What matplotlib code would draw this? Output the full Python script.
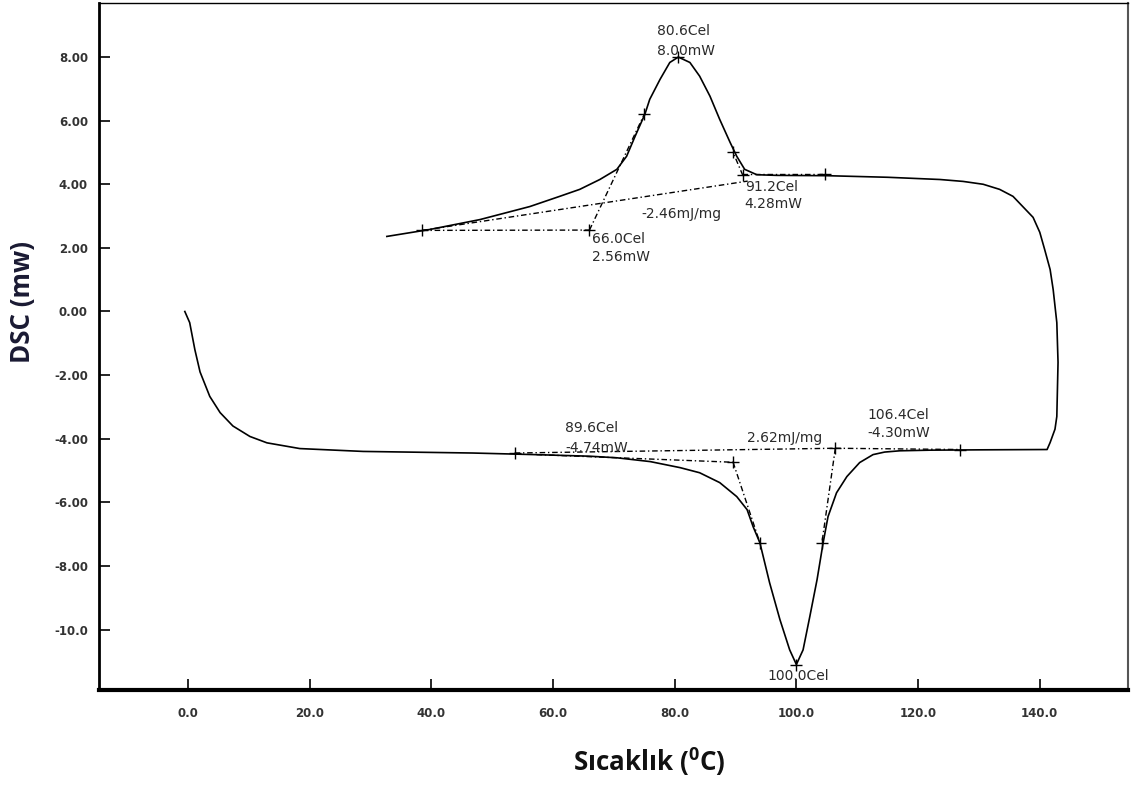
import matplotlib
matplotlib.use("Agg")
import matplotlib.pyplot as plt

# DSC curve: heating run (bottom), turn at ~143 C, cooling run (top)
temp = [-0.5, 0.3, 1.15, 2.0, 3.6, 5.3, 7.4, 10.2, 13.0, 18.4, 28.8, 46.8, 57.0, 66.0,
        70.5, 76.0, 80.9, 84.1, 87.4, 90.2, 91.9, 92.9, 94.0, 95.6, 97.3, 98.9, 100.0,
        101.1, 102.2, 103.4, 104.4, 105.2, 106.6, 108.3, 110.4, 112.6, 114.5, 117.0,
        122.0, 130.0, 141.2, 141.7, 142.5, 142.8, 143.0, 142.8, 142.2, 141.7, 140.8,
        140.0, 138.9, 137.2, 135.6, 133.4, 130.7, 127.4, 123.6, 115.0, 105.0, 96.8,
        93.5, 91.5, 90.2, 89.1, 87.4, 85.8, 84.1, 82.5, 80.6, 79.2, 77.6, 75.9, 75.1,
        73.5, 72.1, 70.5, 67.7, 64.4, 61.1, 56.2, 48.0, 39.8, 32.7]
dsc = [0.0, -0.35, -1.2, -1.9, -2.67, -3.18, -3.6, -3.93, -4.13, -4.31, -4.4, -4.45, -4.5,
       -4.55, -4.6, -4.72, -4.91, -5.07, -5.38, -5.82, -6.23, -6.77, -7.27, -8.53, -9.69,
       -10.64, -11.1, -10.64, -9.6, -8.43, -7.27, -6.45, -5.7, -5.19, -4.75, -4.5, -4.42,
       -4.38, -4.36, -4.35, -4.34, -4.12, -3.7, -3.3, -1.6, -0.35, 0.69, 1.32, 1.95,
       2.49, 2.96, 3.3, 3.62, 3.84, 4.0, 4.09, 4.15, 4.22, 4.27, 4.28, 4.3, 4.47, 4.88,
       5.32, 6.04, 6.77, 7.4, 7.83, 8.0, 7.83, 7.3, 6.67, 6.2, 5.51, 4.88, 4.47, 4.15,
       3.84, 3.62, 3.3, 2.89, 2.58, 2.36]

# analysis construction lines (x pairs, y pairs)
exo_lines = [([38.5, 66.0], [2.55, 2.56]),
             ([66.0, 75.0], [2.56, 6.2]),
             ([38.5, 92.0], [2.55, 4.1]),
             ([91.2, 89.6], [4.28, 5.0]),
             ([91.0, 104.7], [4.31, 4.31])]
endo_lines = [([53.7, 106.4], [-4.45, -4.30]),
              ([57.3, 89.6], [-4.5, -4.74]),
              ([89.6, 94.0], [-4.74, -7.27]),
              ([106.4, 104.2], [-4.30, -7.27]),
              ([106.4, 126.9], [-4.30, -4.34])]
mark_x = [38.5, 66.0, 75.0, 80.6, 89.6, 91.2, 104.7,
          53.7, 89.6, 94.0, 100.0, 104.2, 106.4, 126.9]
mark_y = [2.55, 2.56, 6.2, 8.0, 5.0, 4.3, 4.31,
          -4.45, -4.74, -7.27, -11.1, -7.27, -4.30, -4.34]

# annotation texts (left edge x, centre y)
notes = [("80.6Cel", 77.1, 8.81), ("8.00mW", 77.1, 8.18),
         ("91.2Cel", 91.5, 3.93), ("4.28mW", 91.5, 3.37),
         ("-2.46mJ/mg", 74.6, 3.05),
         ("66.0Cel", 66.4, 2.27), ("2.56mW", 66.4, 1.70),
         ("89.6Cel", 62.0, -3.65), ("-4.74mW", 62.0, -4.28),
         ("2.62mJ/mg", 91.9, -3.97),
         ("106.4Cel", 111.6, -3.24), ("-4.30mW", 111.6, -3.81),
         ("100.0Cel", 95.3, -11.45)]

xticks = [0, 20, 40, 60, 80, 100, 120, 140]
xtick_labels = ["0.0", "20.0", "40.0", "60.0", "80.0", "100.0", "120.0", "140.0"]
yticks = [8, 6, 4, 2, 0, -2, -4, -6, -8, -10]
ytick_labels = ["8.00", "6.00", "4.00", "2.00", "0.00", "-2.00", "-4.00", "-6.00", "-8.00", "-10.0"]

fig = plt.figure(figsize=(11.33, 7.87), dpi=100)
ax = fig.add_axes([0.0874, 0.1233, 0.9082, 0.8729])

ax.plot(temp, dsc, color="black", lw=1.2)
for xs, ys in exo_lines + endo_lines:
    ax.plot(xs, ys, color="black", lw=1.0, linestyle=(0, (4, 2, 1, 2)))
ax.plot(mark_x, mark_y, linestyle="none", marker="+", ms=9, mew=1.0, color="black")

for txt, x, y in notes:
    ax.text(x, y, txt, fontsize=10, ha="left", va="center", color="#2a2a2a")

ax.set_xlim(-14.6, 154.5)
ax.set_ylim(-11.9, 9.7)
ax.set_xticks(xticks)
ax.set_xticklabels(xtick_labels)
ax.set_yticks(yticks)
ax.set_yticklabels(ytick_labels)
ax.tick_params(direction="in", length=8, width=1.2, labelsize=8.5, colors="black",
               labelcolor="#333333")
ax.tick_params(axis="x", pad=12)
ax.tick_params(axis="y", pad=8)
for lab in ax.get_xticklabels() + ax.get_yticklabels():
    lab.set_fontweight("bold")

ax.spines["bottom"].set_linewidth(3)
ax.spines["left"].set_linewidth(2)
ax.spines["top"].set_linewidth(1)
ax.spines["right"].set_linewidth(1.5)
ax.spines["right"].set_color("#555555")

fig.text(0.5728, 0.0318, "Sıcaklık ($^{\\mathregular{0}}$C)", ha="center", va="center",
         fontsize=18.7, fontweight="bold", family="Open Sans", color="#111111")
fig.text(0.0195, 0.6163, "DSC (mw)", ha="center", va="center", rotation=90,
         fontsize=18.7, fontweight="bold", family="Open Sans", color="#1a1a33")

fig.savefig("out.png", dpi=100)
